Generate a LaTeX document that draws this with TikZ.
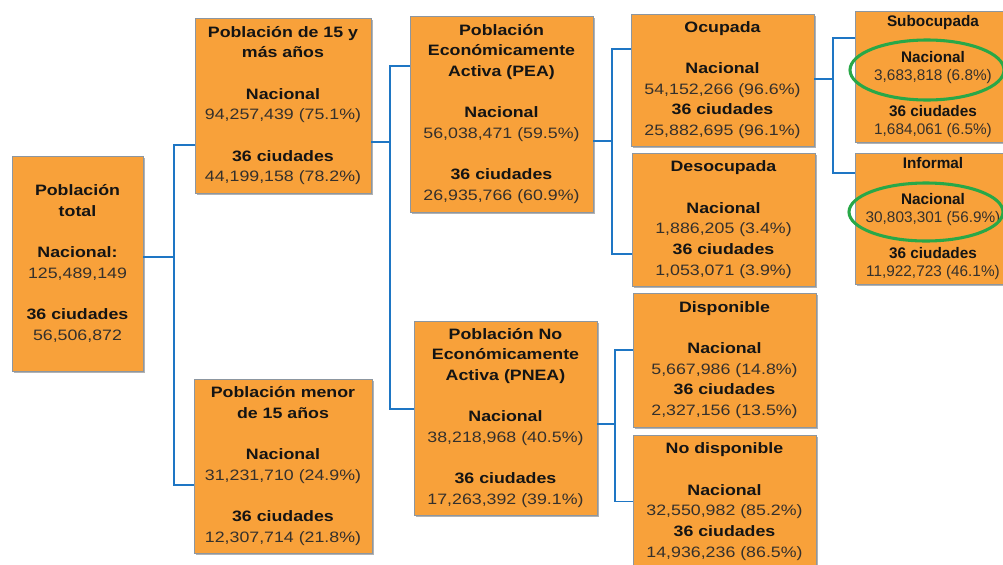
\documentclass[tikz,border=0pt]{standalone}
\usepackage{fontspec}
\setmainfont{Liberation Sans}
\newfontfamily\bst{Liberation Sans}[FakeStretch=1.18]
\usetikzlibrary{shadows}
\definecolor{boxfill}{RGB}{248,161,58}
\definecolor{boxline}{RGB}{140,150,160}
\definecolor{connblue}{RGB}{30,118,196}
\definecolor{hlgreen}{RGB}{40,168,72}
\definecolor{titlec}{RGB}{20,20,20}
\definecolor{numc}{RGB}{52,48,44}
\newcommand\bxhead[1]{{\bst\bfseries\color{titlec}#1}}
\newcommand\bxheads[1]{{\bfseries\color{titlec}#1}}
\newcommand\bxnum[1]{{\bst\color{numc}#1}}
\newcommand\bxnums[1]{{\color{numc}#1}}
\tikzset{
  orgbox/.style={draw=boxline, fill=boxfill, line width=0.6pt, align=center, inner sep=0pt,
    drop shadow={shadow xshift=1.2pt, shadow yshift=-1.2pt, fill=black, opacity=0.3},
    font=\fontsize{11.3}{15.5}\selectfont},
  smallbox/.style={orgbox, font=\fontsize{11.5}{13.5}\selectfont},
  conn/.style={draw=connblue, line width=1.4pt},
  hl/.style={draw=hlgreen, line width=2.3pt}
}
\begin{document}
\begin{tikzpicture}[x=0.75pt,y=-0.75pt]
\useasboundingbox (0,0) rectangle (1003,564);
\fill[white] (0,0) rectangle (1003,564);
\clip (0,0) rectangle (1003,564);

\node[orgbox, minimum width=98.25pt, minimum height=161.25pt] (tot) at (77.5,263.5)
  {\bxhead{Población}\\\bxhead{total}\\[15.5pt]\bxhead{Nacional:}\\\bxnum{125,489,149}\\[15.5pt]\bxhead{36 ciudades}\\\bxnum{56,506,872}};

\node[orgbox, minimum width=132pt, minimum height=131.25pt] (b15) at (283,105.5)
  {\bxhead{Población de 15 y}\\\bxhead{más años}\\[15.5pt]\bxhead{Nacional}\\\bxnum{94,257,439 (75.1\%)}\\[15.5pt]\bxhead{36 ciudades}\\\bxnum{44,199,158 (78.2\%)}};

\node[orgbox, minimum width=133.5pt, minimum height=130.5pt] (men) at (283,466)
  {\bxhead{Población menor}\\\bxhead{de 15 años}\\[15.5pt]\bxhead{Nacional}\\\bxnum{31,231,710 (24.9\%)}\\[15.5pt]\bxhead{36 ciudades}\\\bxnum{12,307,714 (21.8\%)}};

\node[orgbox, minimum width=137.25pt, minimum height=147pt] (pea) at (501.5,114)
  {\bxhead{Población}\\\bxhead{Económicamente}\\\bxhead{Activa (PEA)}\\[15.5pt]\bxhead{Nacional}\\\bxnum{56,038,471 (59.5\%)}\\[15.5pt]\bxhead{36 ciudades}\\\bxnum{26,935,766 (60.9\%)}};

\node[orgbox, minimum width=137.25pt, minimum height=145.5pt] (pnea) at (505.5,418)
  {\bxhead{Población No}\\\bxhead{Económicamente}\\\bxhead{Activa (PNEA)}\\[15.5pt]\bxhead{Nacional}\\\bxnum{38,218,968 (40.5\%)}\\[15.5pt]\bxhead{36 ciudades}\\\bxnum{17,263,392 (39.1\%)}};

\node[orgbox, minimum width=137.25pt, minimum height=99pt] (ocu) at (722.5,80)
  {\bxhead{Ocupada}\\[15.5pt]\bxhead{Nacional}\\\bxnum{54,152,266 (96.6\%)}\\\bxhead{36 ciudades}\\\bxnum{25,882,695 (96.1\%)}};

\node[orgbox, minimum width=137.25pt, minimum height=99.75pt] (des) at (723.5,219.5)
  {\bxhead{Desocupada}\\[15.5pt]\bxhead{Nacional}\\\bxnum{1,886,205 (3.4\%)}\\\bxhead{36 ciudades}\\\bxnum{1,053,071 (3.9\%)}};

\node[orgbox, minimum width=137.25pt, minimum height=100.5pt] (dis) at (724.5,360)
  {\bxhead{Disponible}\\[15.5pt]\bxhead{Nacional}\\\bxnum{5,667,986 (14.8\%)}\\\bxhead{36 ciudades}\\\bxnum{2,327,156 (13.5\%)}};

\node[orgbox, minimum width=137.25pt, minimum height=99.75pt] (nod) at (724.5,501.5)
  {\bxhead{No disponible}\\[15.5pt]\bxhead{Nacional}\\\bxnum{32,550,982 (85.2\%)}\\\bxhead{36 ciudades}\\\bxnum{14,936,236 (86.5\%)}};

\node[smallbox, minimum width=117pt, minimum height=98.25pt] (sub) at (933,76.5)
  {\bxheads{Subocupada}\\[13.5pt]\bxheads{Nacional}\\\bxnums{3,683,818 (6.8\%)}\\[13.5pt]\bxheads{36 ciudades}\\\bxnums{1,684,061 (6.5\%)}};

\node[smallbox, minimum width=117pt, minimum height=98.25pt] (inf) at (933,218.5)
  {\bxheads{Informal}\\[13.5pt]\bxheads{Nacional}\\\bxnums{30,803,301 (56.9\%)}\\[13.5pt]\bxheads{36 ciudades}\\\bxnums{11,922,723 (46.1\%)}};

% connectors
\draw[conn] ([yshift=4.875pt]tot.east) -- ++(31,0) |- ([yshift=-29.625pt]b15.west);
\draw[conn] ([yshift=4.875pt]tot.east) -- ++(31,0) |- ([yshift=-14.25pt]men.west);
\draw[conn] ([yshift=-27.375pt]b15.east) -- ++(19,0) |- ([yshift=36pt]pea.west);
\draw[conn] ([yshift=-27.375pt]b15.east) -- ++(19,0) |- ([yshift=6.75pt]pnea.west);
\draw[conn] ([yshift=-20.25pt]pea.east) -- ++(19,0) |- ([yshift=23.25pt]ocu.west);
\draw[conn] ([yshift=-20.25pt]pea.east) -- ++(19,0) |- ([yshift=-25.875pt]des.west);
\draw[conn] ([yshift=-4.5pt]pnea.east) -- ++(18,0) |- ([yshift=7.5pt]dis.west);
\draw[conn] ([yshift=-4.5pt]pnea.east) -- ++(18,0) |- (nod.west);
\draw[conn] ([yshift=0.75pt]ocu.east) -- ++(19,0) |- ([yshift=28.875pt]sub.west);
\draw[conn] ([yshift=0.75pt]ocu.east) -- ++(19,0) |- ([yshift=34.125pt]inf.west);

% highlights
\draw[hl] (927,70) ellipse [x radius=57.75pt, y radius=22.5pt];
\draw[hl] (926,212) ellipse [x radius=57.75pt, y radius=21.75pt];
\end{tikzpicture}
\end{document}
